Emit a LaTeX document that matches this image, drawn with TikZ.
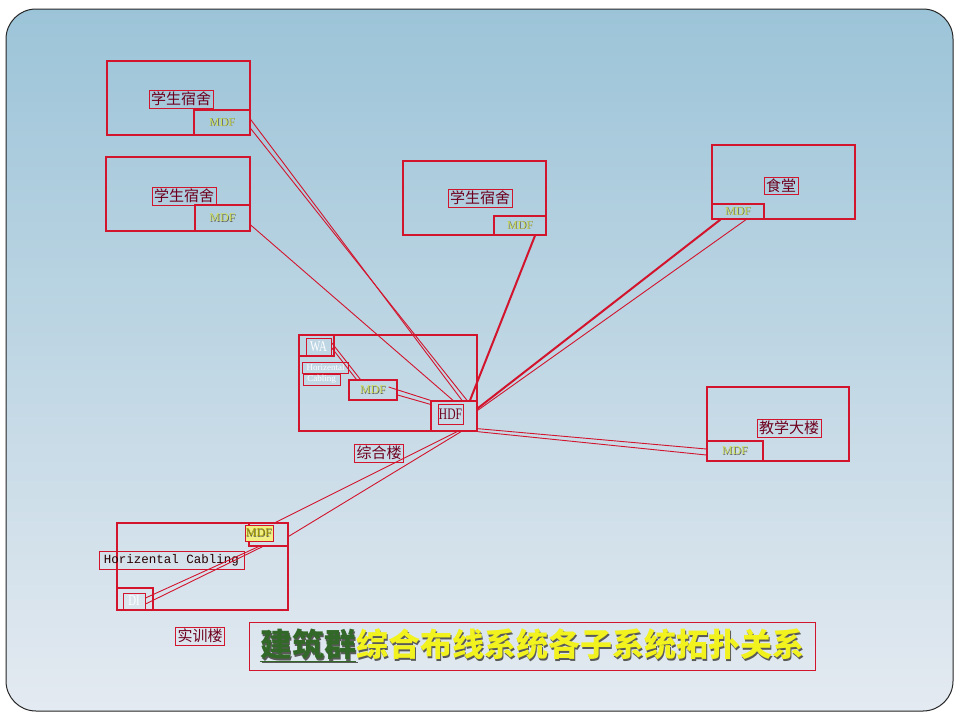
\documentclass[tikz,border=0pt]{standalone}
\usepackage{fontspec}
\setmainfont{Liberation Serif}
\setmonofont{Liberation Mono}
\newfontfamily\cjk{Noto Sans CJK SC}
\newfontfamily\narrow[FakeStretch=0.72]{Liberation Serif}
\usepackage{xcolor}
\usetikzlibrary{positioning}
\definecolor{linered}{RGB}{210,20,45}
\definecolor{lbltext}{RGB}{110,0,30}
\definecolor{mdfgreen}{RGB}{205,222,90}
\definecolor{mdfyellow}{RGB}{242,240,130}
\definecolor{slidetop}{RGB}{156,196,216}
\definecolor{slidebot}{RGB}{228,234,241}
\definecolor{titlegreen}{RGB}{50,105,40}
\definecolor{titleyellow}{RGB}{242,242,30}
\newcommand{\shtext}[3][1.5pt]{\makebox[0pt][l]{\hspace{#1}\raisebox{-#1}{\color{black!65}#3}}{\color{#2}#3}}

\begin{document}
\begin{tikzpicture}[
    x=1pt, y=-1pt,
    bldg/.style={
        rectangle, draw=linered, line width=1.3pt,
        minimum width=143pt, minimum height=74pt,
        inner sep=0pt
    },
    sub/.style={
        rectangle, draw=linered, line width=1.3pt,
        inner sep=0pt, font=\fontsize{12}{12}\selectfont
    },
    lbl/.style={
        rectangle, draw=linered, line width=0.9pt,
        text=lbltext, font=\cjk\fontsize{15}{15}\selectfont,
        inner sep=2pt
    },
    tag/.style={
        rectangle, draw=linered, line width=0.9pt,
        font=\narrow\fontsize{15}{15}\selectfont,
        inner sep=0pt
    },
    link/.style={draw=linered, line width=0.9pt},
    trunk/.style={draw=linered, line width=2pt}
]
\useasboundingbox (0,0) rectangle (960,720);
\fill[white] (0,0) rectangle (960,720);
\draw[top color=slidetop, bottom color=slidebot, draw=black!85, line width=1pt, rounded corners=30pt] (6,9) rectangle (953,711);

% dormitories, canteen, teaching building
\node[bldg] (dormA) at (178.5,98) {};
\node[sub, minimum width=56pt, minimum height=25pt, anchor=south east] (mdfA) at (dormA.south east) {\shtext[0.6pt]{mdfgreen}{MDF}};
\node[lbl] (lblA) at (181,99) {学生宿舍};

\node[bldg, minimum width=144pt] (dormB) at (178,194) {};
\node[sub, minimum width=55pt, minimum height=26pt, anchor=south east] (mdfB) at (dormB.south east) {\shtext[0.6pt]{mdfgreen}{MDF}};
\node[lbl] (lblB) at (184,196) {学生宿舍};

\node[bldg] (dormC) at (474.5,198) {};
\node[sub, minimum width=52pt, minimum height=19pt, anchor=south east] (mdfC) at (dormC.south east) {\shtext[0.6pt]{mdfgreen}{MDF}};
\node[lbl] (lblC) at (480,198) {学生宿舍};

\node[bldg] (canteen) at (783.5,182) {};
\node[sub, minimum width=52pt, minimum height=15pt, anchor=south west] (mdfD) at (canteen.south west) {\shtext[0.6pt]{mdfgreen}{MDF}};
\node[lbl] (lblD) at (781,186) {食堂};

\node[bldg, minimum width=142pt] (teach) at (778,424) {};
\node[sub, minimum width=56pt, minimum height=20pt, anchor=south west] (mdfE) at (teach.south west) {\shtext[0.6pt]{mdfgreen}{MDF}};
\node[lbl] (lblE) at (789,428) {教学大楼};

% complex building
\node[bldg, minimum width=178pt, minimum height=96pt] (zhl) at (388,383) {};
\node[sub, minimum width=35pt, minimum height=21pt, anchor=north west] (waS) at (zhl.north west) {};
\node[tag, text=white, minimum width=25pt, minimum height=17pt] (waL) at (318.5,346.5) {WA};
\node[tag, text=white, font=\fontsize{9}{9}\selectfont, minimum width=46pt, minimum height=11pt] (horL) at (325.5,367.5) {Horizental};
\node[tag, text=white, font=\fontsize{9}{9}\selectfont, minimum width=37pt, minimum height=11pt] (cabL) at (321.5,379.5) {Cabling};
\node[sub, minimum width=48pt, minimum height=20pt] (mdfZ) at (373,390) {\shtext[0.6pt]{mdfgreen}{MDF}};
\node[sub, minimum width=46pt, minimum height=30pt, anchor=south east] (hdfS) at (zhl.south east) {};
\node[tag, text=lbltext, font=\narrow\fontsize{16}{16}\selectfont, minimum width=25pt, minimum height=20pt] (hdfL) at (450.5,414) {HDF};
\node[lbl, below=12pt of zhl.south, xshift=-9pt] (zhlL) {综合楼};

% training building
\node[bldg, minimum width=171pt, minimum height=87pt] (sxl) at (202.5,566.5) {};
\node[sub, minimum width=39pt, minimum height=23pt, anchor=north east] (mdfS) at (sxl.north east) {};
\node[tag, fill=mdfyellow, font=\fontsize{12}{12}\selectfont, minimum width=28pt, minimum height=16pt] (mdfL) at (259,533) {\shtext[0.5pt]{olive!85!yellow}{MDF}};
\node[tag, text=black!85!red, font=\ttfamily\fontsize{12.5}{12.5}\selectfont, minimum width=145pt, minimum height=18pt] (hcL) at (171.5,560) {Horizental Cabling};
\node[sub, minimum width=36pt, minimum height=22pt, anchor=south west] (diS) at (sxl.south west) {};
\node[tag, text=white, minimum width=22pt, minimum height=16pt] (diL) at (134,601) {DI};
\node[lbl] (sxlL) at (200,636) {实训楼};

% title
\node[draw=linered, line width=1pt, minimum width=566pt, minimum height=48pt, font=\cjk\bfseries\fontsize{32}{32}\selectfont] (title) at (532,646)
    {\shtext{titlegreen}{\underline{建筑群}}\shtext{titleyellow}{综合布线系统各子系统拓扑关系}};

% cabling
\draw[link] ([yshift=3pt]mdfA.east) -- ([xshift=8pt]hdfS.north);
\draw[link] ([yshift=-6pt]mdfA.east) -- ([xshift=13pt]hdfS.north);
\draw[link] ([yshift=-7pt]mdfB.east) -- ([xshift=-1pt]hdfS.north);
\draw[trunk] ([xshift=15pt]mdfC.south) -- ([xshift=16pt]hdfS.north);
\draw[trunk] ([xshift=9pt]mdfD.south west) -- ([yshift=-8pt]hdfS.north east);
\draw[link] ([xshift=8pt]mdfD.south) -- ([yshift=-10pt]hdfS.north east);
\draw[link] ([yshift=3pt]hdfS.south east) -- ([yshift=2pt]mdfE.west);
\draw[link] (hdfS.south east) -- ([yshift=-4pt]mdfE.west);
\draw[link] ([yshift=4pt]waL.east) -- ([xshift=12pt]mdfZ.north west);
\draw[link] ([yshift=-1pt]waL.east) -- ([xshift=8pt]mdfZ.north west);
\draw[link] ([xshift=-9pt,yshift=3pt]mdfZ.east) -- (hdfS.north west);
\draw[link] ([yshift=-5pt]mdfZ.east) -- ([yshift=-4pt]hdfS.north west);
\draw[link] ([xshift=3pt]hdfS.south) -- ([xshift=-13pt]mdfS.north east);
\draw[link] ([xshift=7pt]hdfS.south) -- ([yshift=-14pt]mdfS.north east);
\draw[link] ([xshift=-10pt]mdfS.south) -- ([yshift=3pt]diL.east);
\draw[link] ([xshift=-6pt]mdfS.south) -- ([yshift=-3pt]diL.east);

\end{tikzpicture}
\end{document}
